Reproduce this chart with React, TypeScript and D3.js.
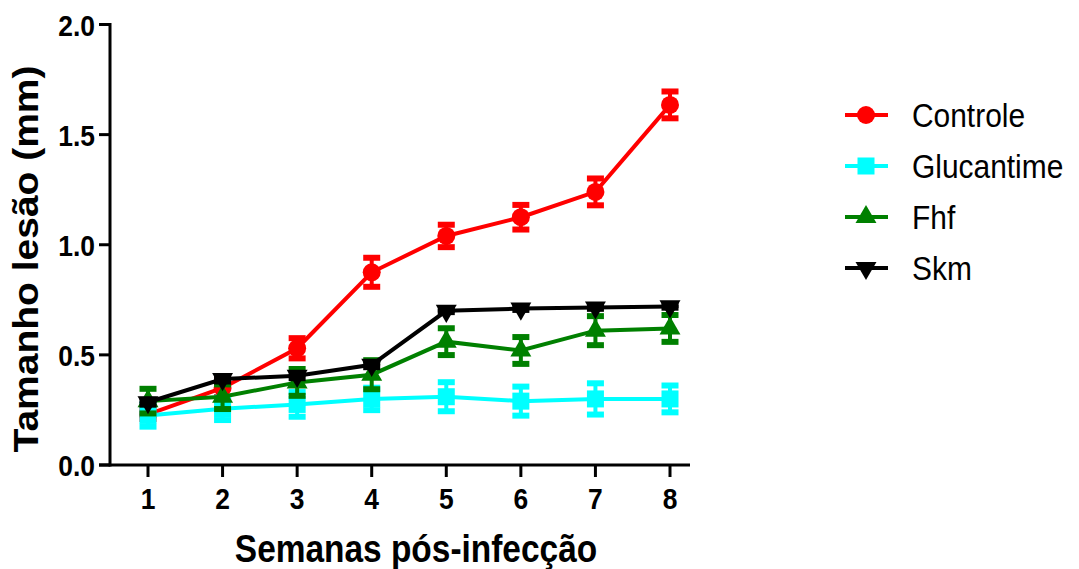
import React from "react";
import * as d3 from "d3";

// Lesion size (mm) by week after infection, mean ± SEM
const weeks = [1, 2, 3, 4, 5, 6, 7, 8];
const yTicks = [0, 0.5, 1.0, 1.5, 2.0];

const controleMean = [0.23, 0.35, 0.53, 0.875, 1.04, 1.125, 1.24, 1.635];
const controleSem = [0.03, 0.05, 0.055, 0.075, 0.06, 0.065, 0.07, 0.07];

const glucantimeMean = [0.225, 0.255, 0.275, 0.3, 0.31, 0.29, 0.3, 0.3];
const glucantimeSem = [0.06, 0.06, 0.065, 0.06, 0.075, 0.075, 0.08, 0.07];

const fhfMean = [0.29, 0.31, 0.375, 0.41, 0.56, 0.52, 0.61, 0.62];
const fhfSem = [0.065, 0.065, 0.07, 0.075, 0.07, 0.07, 0.075, 0.07];

const skmMean = [0.285, 0.39, 0.405, 0.455, 0.7, 0.71, 0.715, 0.72];
const skmSem = [0.02, 0.02, 0.02, 0.02, 0.015, 0.015, 0.015, 0.015];

type Shape = "circle" | "square" | "triUp" | "triDown";

const series: { name: string; color: string; shape: Shape; mean: number[]; sem: number[] }[] = [
  { name: "Controle", color: "#ff0000", shape: "circle", mean: controleMean, sem: controleSem },
  { name: "Glucantime", color: "#00ffff", shape: "square", mean: glucantimeMean, sem: glucantimeSem },
  { name: "Fhf", color: "#008000", shape: "triUp", mean: fhfMean, sem: fhfSem },
  { name: "Skm", color: "#000000", shape: "triDown", mean: skmMean, sem: skmSem },
];

const FONT = "'Liberation Sans', Arial, Helvetica, sans-serif";
const SX = 0.88; // glyphs are drawn slightly condensed

const x = d3.scaleLinear().domain([1, 8]).range([148, 670]);
const y = d3.scaleLinear().domain([0, 2]).range([465, 24.5]);

function Marker({ shape, cx, cy, color }: { shape: Shape; cx: number; cy: number; color: string }) {
  if (shape === "circle") return <circle cx={cx} cy={cy} r={9} fill={color} />;
  if (shape === "square") return <rect x={cx - 8.5} y={cy - 8.5} width={17} height={17} fill={color} />;
  const sym = d3.symbol().type(d3.symbolTriangle).size(190)();
  const rot = shape === "triDown" ? 180 : 0;
  return <path d={sym || ""} transform={`translate(${cx},${cy}) rotate(${rot})`} fill={color} />;
}

function SText({
  x0, y0, children, anchor = "start", size, weight = "normal", rotate = 0,
}: {
  x0: number; y0: number; children: React.ReactNode; anchor?: string; size: number; weight?: string; rotate?: number;
}) {
  return (
    <text
      transform={`translate(${x0},${y0}) scale(${SX},1) rotate(${rotate})`}
      textAnchor={anchor as any}
      fontFamily={FONT}
      fontSize={size}
      fontWeight={weight}
      fill="#000"
    >
      {children}
    </text>
  );
}

export default function App() {
  const line = d3
    .line<number>()
    .x((_, i) => x(weeks[i]))
    .y((d) => y(d));

  const legendRows = [115, 166, 217, 268];

  return (
    <svg
      width={1079}
      height={569}
      style={{ position: "absolute", left: 0, top: 0, background: "#fff" }}
    >
      {/* axes */}
      <line x1={110} x2={110} y1={23} y2={466.5} stroke="#000" strokeWidth={3} />
      <line x1={99} x2={690} y1={465} y2={465} stroke="#000" strokeWidth={3} />
      {yTicks.map((t) => (
        <g key={"yt" + t}>
          <line x1={99} x2={110} y1={y(t)} y2={y(t)} stroke="#000" strokeWidth={3} />
          <SText x0={95} y0={y(t) + 11} anchor="end" size={30} weight="bold">
            {t.toFixed(1)}
          </SText>
        </g>
      ))}
      {weeks.map((w) => (
        <g key={"xt" + w}>
          <line x1={x(w)} x2={x(w)} y1={465} y2={477} stroke="#000" strokeWidth={3} />
          <SText x0={x(w)} y0={509} anchor="middle" size={30} weight="bold">
            {w}
          </SText>
        </g>
      ))}
      <SText x0={416} y0={562} anchor="middle" size={38} weight="bold">
        Semanas pós-infecção
      </SText>
      <SText x0={38} y0={259} anchor="middle" size={39} weight="bold" rotate={-90}>
        Tamanho lesão (mm)
      </SText>

      {/* data series */}
      {series.map((s) => (
        <g key={s.name}>
          {s.mean.map((m, i) => {
            const cx = x(weeks[i]);
            const top = y(m + s.sem[i]);
            const bot = y(m - s.sem[i]);
            return (
              <g key={i} stroke={s.color} strokeWidth={4}>
                <line x1={cx} x2={cx} y1={top} y2={bot} />
                <line x1={cx - 8.5} x2={cx + 8.5} y1={top + 2} y2={top + 2} strokeWidth={6} />
                <line x1={cx - 8.5} x2={cx + 8.5} y1={bot - 2} y2={bot - 2} strokeWidth={6} />
              </g>
            );
          })}
          <path d={line(s.mean) || ""} fill="none" stroke={s.color} strokeWidth={4} />
          {s.mean.map((m, i) => (
            <Marker key={i} shape={s.shape} cx={x(weeks[i])} cy={y(m)} color={s.color} />
          ))}
        </g>
      ))}

      {/* legend */}
      {series.map((s, i) => (
        <g key={"lg" + s.name}>
          <line x1={845} x2={888} y1={legendRows[i]} y2={legendRows[i]} stroke={s.color} strokeWidth={4} />
          <Marker shape={s.shape} cx={866} cy={legendRows[i]} color={s.color} />
          <SText x0={912} y0={legendRows[i] + 12} size={34}>
            {s.name}
          </SText>
        </g>
      ))}
    </svg>
  );
}
